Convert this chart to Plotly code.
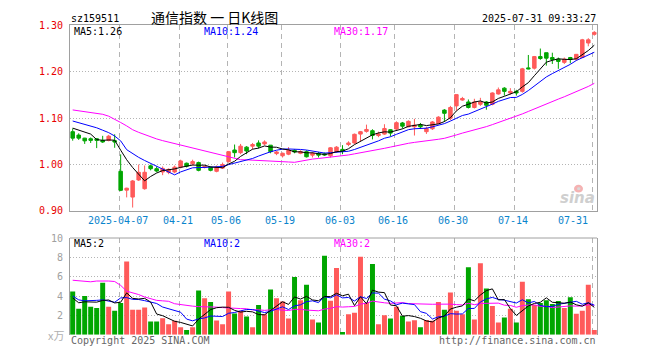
import plotly.graph_objects as go
import pandas as pd

# ---------------- data ----------------
tick_idx = [8, 18, 26, 35, 45, 54, 64, 74, 87]
tick_labels = ["2025-04-07", "04-21", "05-06", "05-19", "06-03", "06-16", "06-30", "07-14", "07-31"]

open_ = [1.0708, 1.0635, 1.0569, 1.0556, 1.0556, 1.0521, 1.0521, 1.0514, 0.9854, 0.9448,
         0.9299, 0.9667, 0.9479, 0.9972, 0.9910, 0.9840, 0.9833, 0.9840, 0.9944, 1.0028,
         1.0015, 1.0042, 0.9938, 0.9944, 0.9854, 0.9923, 1.0063, 1.0313, 1.0256, 1.0375,
         1.0396, 1.0465, 1.0444, 1.0417, 1.0236, 1.0188, 1.0223, 1.0306, 1.0243, 1.0277,
         1.0202, 1.0236, 1.0229, 1.0188, 1.0277, 1.0327, 1.0431, 1.0465, 1.0656, 1.0715,
         1.0729, 1.0625, 1.0656, 1.0750, 1.0765, 1.0896, 1.0813, 1.0813, 1.0854, 1.0708,
         1.0771, 1.0881, 1.1173, 1.1000, 1.1264, 1.1390, 1.1348, 1.1229, 1.1298, 1.1348,
         1.1298, 1.1521, 1.1646, 1.1542, 1.1577, 1.1577, 1.2083, 1.2077, 1.2327, 1.2410,
         1.2306, 1.2271, 1.2202, 1.2306, 1.2271, 1.2306, 1.2619, 1.2806]
high = [1.0778, 1.0673, 1.0575, 1.0583, 1.0569, 1.0619, 1.0639, 1.0652, 1.0219, 0.9500,
        0.9667, 1.0000, 0.9979, 1.0000, 0.9958, 0.9958, 0.9917, 0.9979, 1.0104, 1.0042,
        1.0104, 1.0063, 0.9979, 0.9958, 0.9979, 1.0042, 1.0292, 1.0431, 1.0444, 1.0396,
        1.0465, 1.0521, 1.0521, 1.0417, 1.0292, 1.0257, 1.0375, 1.0327, 1.0306, 1.0306,
        1.0271, 1.0271, 1.0257, 1.0375, 1.0396, 1.0417, 1.0500, 1.0667, 1.0723, 1.0860,
        1.0760, 1.0708, 1.0869, 1.0760, 1.0931, 1.0917, 1.0952, 1.0985, 1.0896, 1.0813,
        1.0938, 1.1042, 1.1194, 1.1264, 1.1507, 1.1458, 1.1402, 1.1417, 1.1438, 1.1369,
        1.1556, 1.1660, 1.1667, 1.1646, 1.1610, 1.2083, 1.2361, 1.2340, 1.2500, 1.2410,
        1.2410, 1.2306, 1.2306, 1.2319, 1.2375, 1.2708, 1.2723, 1.2875]
low = [1.0514, 1.0531, 1.0444, 1.0465, 1.0354, 1.0465, 1.0500, 1.0361, 0.9427, 0.9292,
       0.9073, 0.9646, 0.9458, 0.9875, 0.9833, 0.9771, 0.9792, 0.9813, 0.9917, 0.9938,
       0.9979, 0.9854, 0.9917, 0.9854, 0.9833, 0.9906, 1.0042, 1.0152, 1.0223, 1.0223,
       1.0327, 1.0347, 1.0417, 1.0243, 1.0202, 1.0152, 1.0202, 1.0243, 1.0223, 1.0152,
       1.0152, 1.0152, 1.0188, 1.0152, 1.0250, 1.0223, 1.0396, 1.0444, 1.0500, 1.0688,
       1.0542, 1.0590, 1.0640, 1.0604, 1.0744, 1.0777, 1.0802, 1.0625, 1.0765, 1.0660,
       1.0744, 1.0875, 1.0917, 1.0958, 1.1160, 1.1375, 1.1208, 1.1208, 1.1264, 1.1181,
       1.1277, 1.1507, 1.1486, 1.1507, 1.1486, 1.1550, 1.2052, 1.2048, 1.2257, 1.2132,
       1.2167, 1.2063, 1.2167, 1.2181, 1.2236, 1.2306, 1.2548, 1.2777]
close = [1.0569, 1.0569, 1.0510, 1.0521, 1.0521, 1.0486, 1.0611, 1.0486, 0.9444, 0.9490,
         0.9646, 0.9833, 0.9833, 0.9910, 0.9860, 0.9917, 0.9896, 0.9944, 1.0077, 0.9965,
         1.0063, 0.9875, 0.9958, 0.9875, 0.9944, 1.0000, 1.0277, 1.0256, 1.0396, 1.0292,
         1.0431, 1.0396, 1.0486, 1.0277, 1.0271, 1.0243, 1.0306, 1.0271, 1.0277, 1.0167,
         1.0243, 1.0202, 1.0208, 1.0361, 1.0375, 1.0292, 1.0465, 1.0652, 1.0708, 1.0756,
         1.0625, 1.0660, 1.0777, 1.0677, 1.0902, 1.0827, 1.0931, 1.0848, 1.0813, 1.0777,
         1.0917, 1.1021, 1.1104, 1.1229, 1.1507, 1.1423, 1.1229, 1.1348, 1.1348, 1.1277,
         1.1542, 1.1610, 1.1577, 1.1577, 1.1542, 1.2063, 1.2063, 1.2327, 1.2285, 1.2292,
         1.2264, 1.2223, 1.2271, 1.2264, 1.2375, 1.2688, 1.2688, 1.2848]
volume = [4.47, 2.67, 4.00, 2.90, 2.77, 5.37, 2.90, 2.47, 3.27, 7.57,
          2.57, 2.57, 2.80, 1.37, 1.37, 1.70, 1.07, 1.43, 0.77, 0.47,
          0.77, 4.57, 3.77, 3.37, 1.47, 1.07, 4.47, 2.20, 2.47, 1.87,
          0.77, 3.07, 2.10, 4.67, 3.77, 3.43, 1.67, 5.97, 3.57, 5.17,
          1.57, 1.27, 8.17, 3.50, 6.90, 0.27, 2.10, 2.27, 8.07, 3.30,
          7.30, 1.07, 2.00, 1.67, 2.90, 1.93, 1.37, 1.50, 0.77, 1.53,
          1.43, 3.37, 2.57, 4.37, 2.47, 2.10, 6.97, 1.57, 7.40, 4.77,
          2.97, 1.27, 1.77, 2.67, 1.27, 5.47, 3.67, 3.07, 3.27, 3.57,
          3.17, 3.47, 2.77, 3.87, 2.17, 2.47, 5.17, 0.47]

# moving-average values at the start of the window (read from the picture,
# since their earlier inputs are outside the chart)
ma5_head = [1.0785, 1.0740, 1.0698, 1.0656]
ma10_head = [1.0938, 1.0902, 1.0869, 1.0833, 1.0792, 1.0740, 1.0688, 1.0615, 1.0510]
ma30_head = [1.1177, 1.1156, 1.1140, 1.1121, 1.1104, 1.1083, 1.1042, 1.0979, 1.0906, 1.0833,
             1.0750, 1.0694, 1.0646, 1.0594, 1.0552, 1.0515, 1.0483, 1.0452, 1.0427, 1.0396,
             1.0365, 1.0333, 1.0302, 1.0271, 1.0240, 1.0208, 1.0167, 1.0135, 1.0104]
vma5_head = [3.80, 3.30, 3.40, 3.35]
vma10_head = [4.00, 3.60, 3.50, 3.50, 3.55, 3.60, 3.50, 3.35, 3.80]
vma30_head = [5.63, 5.60, 5.50, 5.47, 5.55, 5.57, 5.55, 5.50, 5.10, 4.50,
              4.35, 4.15, 3.90, 3.70, 3.55, 3.50, 3.45, 3.20, 3.10, 3.00,
              2.95, 2.90, 2.90, 2.90, 2.85, 2.80, 2.75, 2.73, 2.70]

price_ticks = [0.90, 1.00, 1.10, 1.20, 1.30]
price_tick_labels = ["0.90", "1.00", "1.10", "1.20", "1.30"]
vol_ticks = [2, 4, 6, 8, 10]
vol_tick_labels = ["2", "4", "6", "8", "10"]

# ---------------- derived ----------------
idx = list(range(len(close)))


def moving_avg(vals, n, head):
    s = pd.Series(vals, dtype=float).rolling(n).mean()
    s.iloc[:n - 1] = head
    return s.tolist()


ma5 = moving_avg(close, 5, ma5_head)
ma10 = moving_avg(close, 10, ma10_head)
ma30 = moving_avg(close, 30, ma30_head)
vma5 = moving_avg(volume, 5, vma5_head)
vma10 = moving_avg(volume, 10, vma10_head)
vma30 = moving_avg(volume, 30, vma30_head)

RED = "#ff5a5a"
GREEN = "#00a600"
BORDER = "#a0a0a0"
MONO = "DejaVu Sans Mono"

bar_colors = [RED if c >= o else GREEN for o, c in zip(open_, close)]

W, H = 660, 360
X0, X1 = 70, 597
PY0, PY1 = 20, 212
VY0, VY1 = 240, 340


def px(x):
    return x / W


def py(y):
    return 1 - y / H


fig = go.Figure()

fig.add_trace(go.Candlestick(
    x=idx, open=open_, high=high, low=low, close=close,
    increasing=dict(line=dict(color=RED, width=1), fillcolor=RED),
    decreasing=dict(line=dict(color=GREEN, width=1), fillcolor=GREEN),
    whiskerwidth=0, hoverinfo="skip", showlegend=False,
    xaxis="x", yaxis="y"))

for vals, col in [(ma30, "#ff00ff"), (ma10, "#0000ff"), (ma5, "#000000")]:
    fig.add_trace(go.Scatter(x=idx, y=vals, mode="lines",
                             line=dict(color=col, width=1),
                             hoverinfo="skip", showlegend=False,
                             xaxis="x", yaxis="y"))

fig.add_trace(go.Bar(x=idx, y=volume, marker=dict(color=bar_colors, line=dict(width=0)),
                     width=0.83, hoverinfo="skip", showlegend=False,
                     xaxis="x2", yaxis="y2"))

for vals, col in [(vma30, "#ff00ff"), (vma10, "#0000ff"), (vma5, "#000000")]:
    fig.add_trace(go.Scatter(x=idx, y=vals, mode="lines",
                             line=dict(color=col, width=1),
                             hoverinfo="skip", showlegend=False,
                             xaxis="x2", yaxis="y2"))

grid_x = [i - 0.25 for i in tick_idx]
xrange_ = [-0.45, len(close) - 1 + 0.45]

common_x = dict(range=xrange_, domain=[px(X0), px(X1)], tickvals=grid_x,
                showticklabels=False, ticks="", showgrid=True,
                gridcolor="#b4b4b4", griddash="5px,4px", gridwidth=1,
                zeroline=False, fixedrange=True)

fig.update_layout(
    width=W, height=H, autosize=False,
    margin=dict(l=0, r=0, t=0, b=0, pad=0),
    paper_bgcolor="white", plot_bgcolor="white",
    showlegend=False,
    boxgap=0.17,
    xaxis=dict(**common_x, anchor="y", rangeslider=dict(visible=False),
               showline=True, mirror=True, linecolor=BORDER, linewidth=1),
    yaxis=dict(domain=[py(PY1), py(PY0)], range=[0.90, 1.30], anchor="x",
               tickvals=price_ticks, ticktext=price_tick_labels,
               tickfont=dict(family=MONO, size=10, color="#e80000"),
               ticks="", ticklabelstandoff=4,
               showgrid=True, gridcolor="#b4b4b4", griddash="1px,2px",
               showline=True, mirror=True, linecolor=BORDER, linewidth=1,
               zeroline=False, fixedrange=True),
    xaxis2=dict(**common_x, anchor="y2", showline=False),
    yaxis2=dict(domain=[py(VY1), py(VY0)], range=[0, 10], anchor="x2",
                tickvals=vol_ticks, ticktext=vol_tick_labels,
                tickfont=dict(family=MONO, size=10, color="#a0a0a0"),
                ticks="", ticklabelstandoff=4,
                showgrid=True, gridcolor="#b4b4b4", griddash="1px,2px",
                showline=True, mirror=True, linecolor=BORDER, linewidth=1,
                zeroline=False, fixedrange=True),
)

# top border of the volume panel
fig.add_shape(type="line", xref="paper", yref="paper",
              x0=px(X0), x1=px(X1), y0=py(VY0), y1=py(VY0),
              line=dict(color=BORDER, width=1))

ann = []


def text(x, y, s, color="#000", size=10, anchor="left", family=MONO, **kw):
    ann.append(dict(x=px(x), y=py(y), xref="paper", yref="paper", text=s,
                    showarrow=False, xanchor=anchor, yanchor="middle",
                    font=dict(family=family, size=size, color=color), **kw))


text(69, 13, "sz159511")
text(214, 11, "通信指数 一 日K线图", size=14, anchor="center", family="Noto Sans CJK SC")
text(598, 13, "2025-07-31 09:33:27", anchor="right")

text(72, 26.5, "MA5:1.26", color="#000000")
text(202, 26.5, "MA10:1.24", color="#0000ff")
text(332, 26.5, "MA30:1.17", color="#ff00ff")

text(72, 246, "MA5:2", color="#000000")
text(202, 246, "MA10:2", color="#0000ff")
text(332, 246, "MA30:2", color="#ff00ff")

text(66, 340, "x万", color="#b0b0b0", size=11, anchor="right", family="Noto Sans CJK SC")
text(69, 346, "Copyright 2025 SINA.COM", color="#666666")
text(598, 346, "http://finance.sina.com.cn", color="#666666", anchor="right")

text(597, 199, "<b><i>sina</i></b>", color="#cfcfcf", size=15, anchor="right", family="DejaVu Sans")

# date tick labels along the price axis
for i, lab in zip(tick_idx, tick_labels):
    last = (i == tick_idx[-1])
    ann.append(dict(x=(i - 0.25) if last else (i - 0.5), y=py(221.5), xref="x", yref="paper",
                    text=lab, showarrow=False,
                    xanchor="right" if last else "center", yanchor="middle",
                    xshift=-3 if last else 0,
                    font=dict(family=MONO, size=10, color="#0a84cc")))

fig.update_layout(annotations=ann)

# sina eye mark
fig.add_shape(type="circle", xref="paper", yref="paper",
              x0=px(574), x1=px(583), y0=py(193), y1=py(185),
              fillcolor="#f5b2b2", line=dict(width=0))
fig.add_shape(type="circle", xref="paper", yref="paper",
              x0=px(577), x1=px(580.5), y0=py(190.5), y1=py(187.5),
              fillcolor="#d8d8d8", line=dict(width=0))

fig.write_html(
    "out.html",
    config={"displayModeBar": False, "staticPlot": True, "responsive": False},
    post_script="document.body.style.margin='0';document.body.style.padding='0';"
                "document.documentElement.style.overflow='hidden';",
)
